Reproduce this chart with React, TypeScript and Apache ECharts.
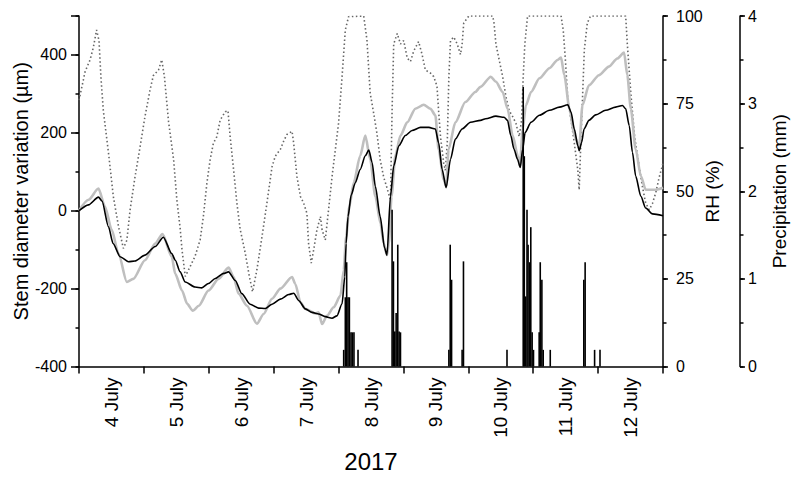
import React, { useEffect, useRef } from "react";
import * as echarts from "echarts";

// hours since 4 July 2017 00:00
const dayLabels = ["4 July", "5 July", "6 July", "7 July", "8 July", "9 July", "10 July", "11 July", "12 July"];
const dayCentres = [12, 36, 60, 84, 108, 132, 156, 180, 204];

const stemBlack: [number, number][] = [
  [0, 0], [3.5, 15], [7.2, 35], [8.5, 25], [10.9, -41], [12.6, -84], [15.2, -118], [18.3, -131], [20.7, -129],
  [24.4, -114], [28.2, -92], [31.2, -68], [34.3, -110], [35.6, -127], [37.4, -157], [39.3, -183], [42.9, -196],
  [45.4, -198], [47.9, -187], [50.4, -174], [53.5, -161], [55.3, -157], [57.8, -179], [60.2, -213], [63.3, -240],
  [66.4, -250], [68.9, -251], [71.4, -240], [74.5, -227], [77.6, -215], [79.4, -212], [81.3, -231], [83.7, -252],
  [86.2, -261], [88.6, -265], [91.1, -272], [93.6, -276], [95.4, -270], [97.3, -239], [98.3, -170], [98.8, -84],
  [99.5, -15], [100.7, 41], [102.2, 72], [104, 106], [105.9, 141], [107.2, 156], [108.4, 124], [109.6, 63],
  [111.4, -15], [113, -95], [113.9, -114], [115.2, 37], [116.4, 115], [118.3, 167], [120.7, 193], [123.2, 206],
  [126.3, 214], [129.4, 214], [131.8, 210], [133, 175], [134.3, 106], [135.8, 59], [137.4, 132], [139.2, 184],
  [141.7, 210], [144.8, 227], [148.5, 232], [150.4, 236], [154.2, 243], [157.2, 240], [158.5, 232], [159.7, 193],
  [160.9, 158], [162.2, 132], [163.2, 111], [164.1, 158], [165, 201], [167.2, 227], [170.3, 245], [174, 258],
  [177.7, 266], [180.8, 272], [182, 253], [183.2, 210], [184.5, 167], [185, 154], [185.9, 175], [186.8, 210],
  [188.6, 232], [191.1, 246], [194.8, 258], [198.5, 266], [201, 270], [202.2, 262], [203.5, 219], [204.7, 150],
  [205.9, 89], [207.8, 37], [209.6, 7], [212.1, -8], [216, -13],
];

const stemGray: [number, number][] = [
  [0, 0], [3.5, 28], [7.2, 57], [9.6, 11], [12.1, -49], [14.6, -110], [17.7, -183], [20.1, -175], [24.4, -127],
  [28.2, -84], [30.9, -60], [34.3, -118], [35.6, -162], [38.1, -205], [40, -239], [42.1, -257], [44.3, -244],
  [47.9, -205], [51.6, -175], [55.3, -146], [57.2, -170], [59, -213], [62.1, -244], [65.8, -290], [68.3, -265],
  [71.4, -226], [74.5, -200], [78.8, -170], [80, -188], [81.9, -235], [83.7, -252], [87.4, -264], [88.6, -261],
  [89.9, -291], [91.7, -270], [94.2, -248], [96.7, -218], [97.9, -153], [98.8, -67], [100, 11], [101.6, 72],
  [104, 141], [105.9, 193], [107.7, 132], [109.6, 37], [111.5, -32], [112.7, -84], [113.9, -114], [114.6, -84],
  [115.6, 37], [117, 141], [118.9, 193], [121.4, 227], [124.4, 262], [127.5, 272], [130, 262], [131.8, 245],
  [133, 158], [134.9, 80], [135.8, 63], [136.7, 158], [139.2, 227], [142.9, 279], [146.6, 305], [148.5, 318],
  [152.3, 344], [154.2, 331], [156.7, 305], [158.5, 262], [160.4, 193], [162.3, 141], [163.1, 115], [164.1, 210],
  [165.3, 271], [167.2, 305], [170.3, 340], [174, 366], [177, 387], [178.3, 393], [179.5, 348], [181.4, 262],
  [183.2, 193], [185, 163], [186.2, 271], [188.6, 322], [192.3, 348], [196, 370], [199.1, 391], [201.6, 406],
  [202.8, 348], [204.1, 262], [205.9, 158], [207.8, 89], [209.6, 54], [213.3, 54], [216, 59],
];

const relHumidity: [number, number][] = [
  [0, 76], [1.6, 81.7], [2.2, 84], [4.1, 87.5], [5.3, 91], [6.5, 96], [7.4, 93], [8.1, 82.7], [9, 73], [10.9, 61],
  [12.7, 48.5], [14.6, 40], [16.4, 33.7], [17.7, 36], [18.9, 44.7], [20.7, 54], [22.6, 62.7], [24.4, 71.3],
  [26.3, 79], [27.5, 83], [29.4, 84.6], [30.6, 87.5], [31.6, 82.7], [33.1, 70], [35, 59], [36.2, 47.5],
  [37.4, 39.5], [38.1, 33.3], [39.3, 25.7], [41.1, 28.5], [42.9, 31.4], [44.8, 36.1], [46, 42.8], [47.3, 52.3],
  [48.5, 59], [49.7, 63.7], [51, 65.6], [52.2, 70.3], [54.1, 72.7], [55.1, 73], [55.9, 65.6], [57.2, 56],
  [58.4, 46.6], [59.6, 39.2], [61.5, 32.3], [63, 25.7], [64.2, 21.3], [65.8, 27.6], [67.7, 37.1], [69.5, 46.6],
  [71.4, 57], [72.6, 60], [74.5, 62], [75.7, 64.3], [76.9, 66.2], [78.8, 67.1], [79.4, 63.7], [80.6, 54.2],
  [81.9, 48.5], [83.1, 46.6], [84.3, 43.7], [84.9, 35.2], [85.9, 29.5], [86.8, 33.3], [88, 39], [89.3, 42.8],
  [89.9, 39], [91.1, 36.1], [92.3, 44.7], [93.6, 54.2], [94.8, 61.8], [96, 69.4], [97.3, 82.7], [98.5, 96],
  [99.7, 99.8], [105.3, 100], [106.5, 93.2], [107.7, 78], [109, 72.2], [110.2, 66.5], [111.4, 59], [112.7, 54],
  [113.9, 51], [115.2, 47.5], [115.8, 73], [116.4, 92], [117.7, 95], [118.9, 92], [120.1, 93], [121.4, 88],
  [122.6, 87], [123.8, 90], [125.6, 92.7], [126.9, 89], [128.1, 84.6], [130, 83.7], [131.2, 82.7], [132.4, 80],
  [133, 73], [133.7, 65.6], [134.3, 61.8], [134.9, 58], [135.5, 56], [136.2, 63.7], [136.8, 82.7], [137.4, 93],
  [138.6, 94], [139.9, 92], [141.1, 89], [141.7, 92], [142.3, 98], [144.2, 100], [153, 100], [153.5, 98],
  [154.2, 92], [155.4, 87.5], [156.7, 82.7], [157.9, 77], [159.1, 73], [160.4, 71.3], [161.6, 69.4], [162.8, 65.6],
  [163.7, 70.3], [164.3, 82.7], [164.9, 92], [165.9, 100], [178.3, 100], [179.1, 96], [179.9, 87.5], [180.8, 76],
  [182, 70.3], [183.2, 63.7], [184.5, 56], [185, 50.4], [185.6, 63.7], [186.3, 78], [186.9, 90.3], [188, 98],
  [189.2, 100], [202.2, 100], [202.8, 92], [204.1, 78], [205.5, 65.6], [207.2, 57], [208.4, 51.3], [209.6, 46.6],
  [210.9, 44.7], [212.1, 46.5], [213.3, 49.5], [214.6, 54], [216, 58],
];

const precipitation: [number, number][] = [
  [97.9, 0.19], [98.5, 0.79], [99.0, 1.19], [99.5, 0.79], [100.0, 0.79], [100.6, 0.39], [101.1, 0.39], [101.7, 0.39],
  [103.2, 0.19],
  [115.8, 1.79], [116.3, 1.2], [116.8, 0.4], [117.3, 0.61], [117.9, 1.39], [118.4, 0.4], [118.9, 0.39],
  [136.8, 0.19], [137.3, 1.39], [137.8, 0.99], [141.7, 0.19], [142.2, 1.2],
  [158.3, 0.19],
  [164.3, 3.19], [164.7, 2.4], [165.2, 0.8], [165.7, 1.79], [166.1, 1.39], [166.7, 1.19], [167.1, 1.59],
  [167.6, 0.39], [168.1, 0.19],
  [170.2, 0.39], [170.6, 1.19], [171.2, 0.99], [171.7, 0.19], [174.3, 0.19],
  [186.7, 0.99], [187.2, 1.19], [190.7, 0.19], [192.7, 0.19],
];

const FONT = "'Liberation Sans', Arial, sans-serif";
const AX = { lineStyle: { color: "#000", width: 1.5 } };

export default function App() {
  const ref = useRef<HTMLDivElement>(null);
  useEffect(() => {
    if (!ref.current) return;
    const chart = echarts.init(ref.current, null, { renderer: "svg" });
    const grid = { left: 79, right: 137, top: 16, height: 350.5, outerBoundsMode: "none" } as any;
    chart.setOption({
      animation: false,
      backgroundColor: "#fff",
      textStyle: { fontFamily: FONT, color: "#000" },
      grid,
      xAxis: [
        {
          type: "value", min: 0, max: 216, interval: 24,
          axisLine: { show: true, onZero: false, ...AX },
          axisTick: { show: true, inside: false, length: 7, lineStyle: { color: "#000", width: 1.5 } },
          axisLabel: { show: false }, splitLine: { show: false },
        },
      ],
      yAxis: [
        {
          type: "value", position: "left", min: -400, max: 500, interval: 100,
          axisLine: { show: true, onZero: false, ...AX },
          axisTick: { show: true, length: 3.5, lineStyle: { color: "#000", width: 1.5 } },
          axisLabel: { show: false }, splitLine: { show: false },
          name: "Stem diameter variation (µm)", nameLocation: "middle", nameGap: 48,
          nameTextStyle: { fontSize: 20, color: "#000", fontFamily: FONT },
        },
        {
          type: "value", position: "left", min: -400, max: 500, interval: 200,
          axisLine: { show: false, onZero: false },
          axisTick: { show: true, length: 8, lineStyle: { color: "#000", width: 1.5 } },
          axisLabel: { fontSize: 16, margin: 12, color: "#000", fontFamily: FONT, formatter: (v: number) => (v === 500 ? "" : String(v)) },
          splitLine: { show: false },
        },
        {
          type: "value", position: "right", min: 0, max: 100, interval: 12.5,
          axisLine: { show: true, onZero: false, ...AX },
          axisTick: { show: true, length: 3.5, lineStyle: { color: "#000", width: 1.5 } },
          axisLabel: { show: false }, splitLine: { show: false },
          name: "RH (%)", nameLocation: "middle", nameGap: 40,
          nameTextStyle: { fontSize: 19, color: "#000", fontFamily: FONT },
        },
        {
          type: "value", position: "right", min: 0, max: 100, interval: 25,
          axisLine: { show: false, onZero: false },
          axisTick: { show: true, length: 5, lineStyle: { color: "#000", width: 1.5 } },
          axisLabel: { fontSize: 16, margin: 13, color: "#000", fontFamily: FONT },
          splitLine: { show: false },
        },
        {
          type: "value", position: "right", offset: 77, min: 0, max: 4, interval: 0.5,
          axisLine: { show: true, onZero: false, ...AX },
          axisTick: { show: true, length: 3.5, lineStyle: { color: "#000", width: 1.5 } },
          axisLabel: { show: false }, splitLine: { show: false },
          name: "Precipitation (mm)", nameLocation: "middle", nameGap: 30,
          nameTextStyle: { fontSize: 19, color: "#000", fontFamily: FONT },
        },
        {
          type: "value", position: "right", offset: 77, min: 0, max: 4, interval: 1,
          axisLine: { show: false, onZero: false },
          axisTick: { show: true, length: 5, lineStyle: { color: "#000", width: 1.5 } },
          axisLabel: { fontSize: 16, margin: 8, color: "#000", fontFamily: FONT },
          splitLine: { show: false },
        },
      ],
      series: [
        {
          name: "RH", type: "line", xAxisIndex: 0, yAxisIndex: 2, data: relHumidity, showSymbol: false,
          lineStyle: { color: "#666", width: 1.6, type: [1.5, 2.5] }, z: 1,
        },
        {
          name: "Stem 2", type: "line", xAxisIndex: 0, yAxisIndex: 0, data: stemGray, showSymbol: false,
          smooth: 0.25, smoothMonotone: "x",
          lineStyle: { color: "#bfbfbf", width: 2.6 }, z: 2,
        },
        {
          name: "Stem 1", type: "line", xAxisIndex: 0, yAxisIndex: 0, data: stemBlack, showSymbol: false,
          smooth: 0.25, smoothMonotone: "x",
          lineStyle: { color: "#000", width: 1.6 }, z: 3,
        },
        {
          name: "Precipitation", type: "bar", xAxisIndex: 0, yAxisIndex: 4, data: precipitation,
          barWidth: 1.6, itemStyle: { color: "#000" }, z: 4,
        },
      ],
    });
    // day labels placed through the x axis scale
    const baseY = chart.convertToPixel({ yAxisIndex: 0 }, -400) as number;
    const labels = dayLabels.map((t, i) => ({
      type: "text",
      x: chart.convertToPixel({ xAxisIndex: 0 }, dayCentres[i]) as number,
      y: baseY + 11,
      rotation: Math.PI / 2,
      style: { text: t, fontSize: 19, fontFamily: FONT, fill: "#000", textAlign: "right", textVerticalAlign: "middle" },
    }));
    chart.setOption({
      graphic: [
        ...labels,
        {
          type: "text", x: 371, y: 461,
          style: { text: "2017", fontSize: 24, fontFamily: FONT, fill: "#000", textAlign: "center", textVerticalAlign: "middle" },
        },
      ],
    });
    return () => chart.dispose();
  }, []);
  return <div ref={ref} style={{ position: "fixed", left: 0, top: 0, width: 800, height: 479, background: "#fff" }} />;
}
